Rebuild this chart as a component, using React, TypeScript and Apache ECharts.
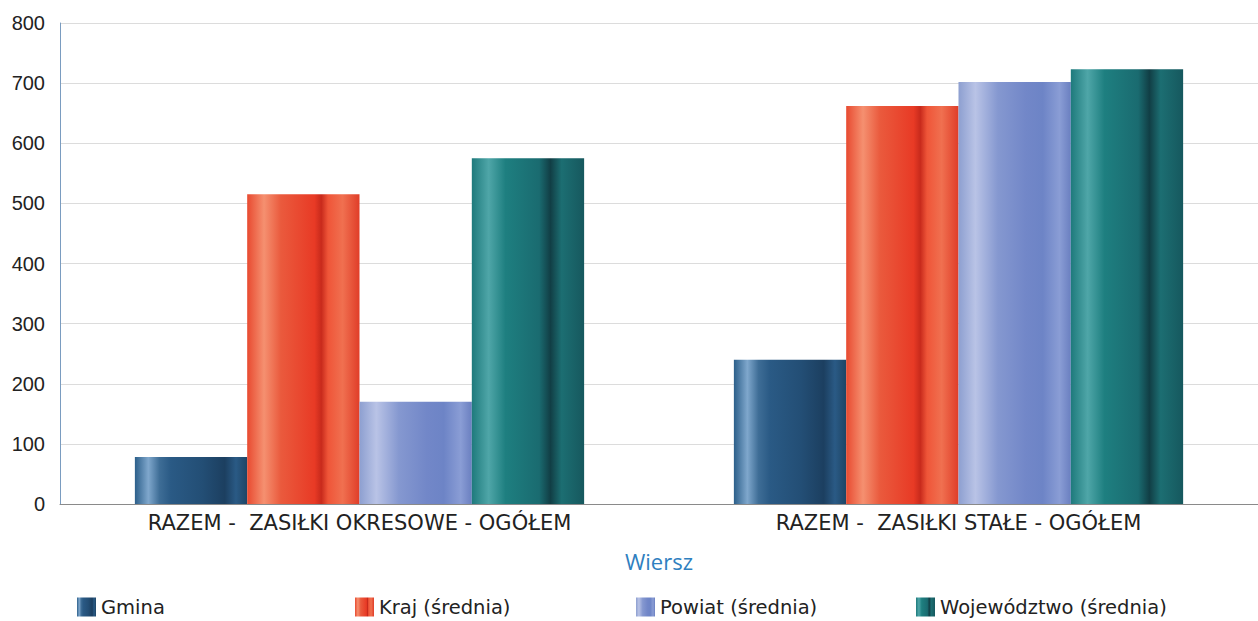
import React, { useEffect, useRef } from "react";
import * as echarts from "echarts";

const categories = ["RAZEM -  ZASIŁKI OKRESOWE - OGÓŁEM", "RAZEM -  ZASIŁKI STAŁE - OGÓŁEM"];
const seriesNames = ["Gmina", "Kraj (średnia)", "Powiat (średnia)", "Województwo (średnia)"];
const gmina = [78, 240];
const kraj = [515, 662];
const powiat = [170, 702];
const wojewodztwo = [575, 723];
const yTicks = { min: 0, max: 800, interval: 100 };
const axisName = "Wiersz";

const grad = (stops: [number, string][]) =>
  new echarts.graphic.LinearGradient(0, 0, 1, 0, stops.map(([offset, color]) => ({ offset, color })));

const fills = [
  grad([[0, "#2c5f8a"], [0.12, "#7fa7cc"], [0.22, "#3e6d96"], [0.32, "#2a5a85"], [0.6, "#234e75"], [0.8, "#1c3f60"], [0.9, "#2a5a85"], [1, "#1e4565"]]),
  grad([[0, "#e84a30"], [0.15, "#f59070"], [0.3, "#ea5a3d"], [0.6, "#e83a25"], [0.66, "#c82a1c"], [0.72, "#ef5538"], [0.85, "#f07050"], [1, "#e03d28"]]),
  grad([[0, "#8d9fd0"], [0.15, "#b9c3e6"], [0.35, "#8598d0"], [0.6, "#7287c8"], [0.75, "#6d84c6"], [0.9, "#8a9dd5"], [1, "#6a7fc0"]]),
  grad([[0, "#1e7a7c"], [0.15, "#4fa6a8"], [0.3, "#1e7f80"], [0.6, "#1a6b70"], [0.7, "#113e45"], [0.8, "#1c6e72"], [1, "#16585e"]]),
];

const values = [gmina, kraj, powiat, wojewodztwo];
const legendLefts = [72, 350, 631, 911];

export default function App() {
  const ref = useRef<HTMLDivElement>(null);
  useEffect(() => {
    if (!ref.current) return;
    const chart = echarts.init(ref.current, null, { renderer: "svg" });
    chart.setOption({
      animation: false,
      backgroundColor: "#ffffff",
      grid: { left: 60, right: -6, top: 23, bottom: 117 },
      legend: seriesNames.map((n, i) => ({
        data: [n],
        left: legendLefts[i],
        top: 592,
        itemWidth: 19,
        itemHeight: 19,
        itemGap: 6,
        icon: "rect",
        textStyle: { fontFamily: "DejaVu Sans", fontSize: 19.5, color: "#222" },
      })),
      xAxis: {
        type: "category",
        data: categories,
        name: axisName,
        nameLocation: "middle",
        nameGap: 46,
        nameTextStyle: { fontFamily: "Open Sans", fontSize: 22, color: "#2f80c0" },
        axisLine: { lineStyle: { color: "#8a8a8a", width: 1 } },
        axisTick: { show: false },
        axisLabel: { fontFamily: "DejaVu Sans", fontSize: 21, color: "#222", margin: 8 },
      },
      yAxis: {
        type: "value",
        min: yTicks.min,
        max: yTicks.max,
        interval: yTicks.interval,
        axisLine: { show: true, lineStyle: { color: "#7a9cc0", width: 1 } },
        axisTick: { show: false },
        axisLabel: { fontFamily: "Liberation Sans", fontSize: 20, color: "#222", margin: 15 },
        splitLine: { lineStyle: { color: "#dcdcdc", width: 1 } },
      },
      series: seriesNames.map((n, i) => ({
        name: n,
        type: "bar",
        data: values[i],
        barGap: "0%",
        barCategoryGap: "25%",
        itemStyle: { color: fills[i] },
      })),
    });
    return () => chart.dispose();
  }, []);
  return <div ref={ref} style={{ position: "fixed", left: 0, top: 0, width: 1258, height: 621 }} />;
}
